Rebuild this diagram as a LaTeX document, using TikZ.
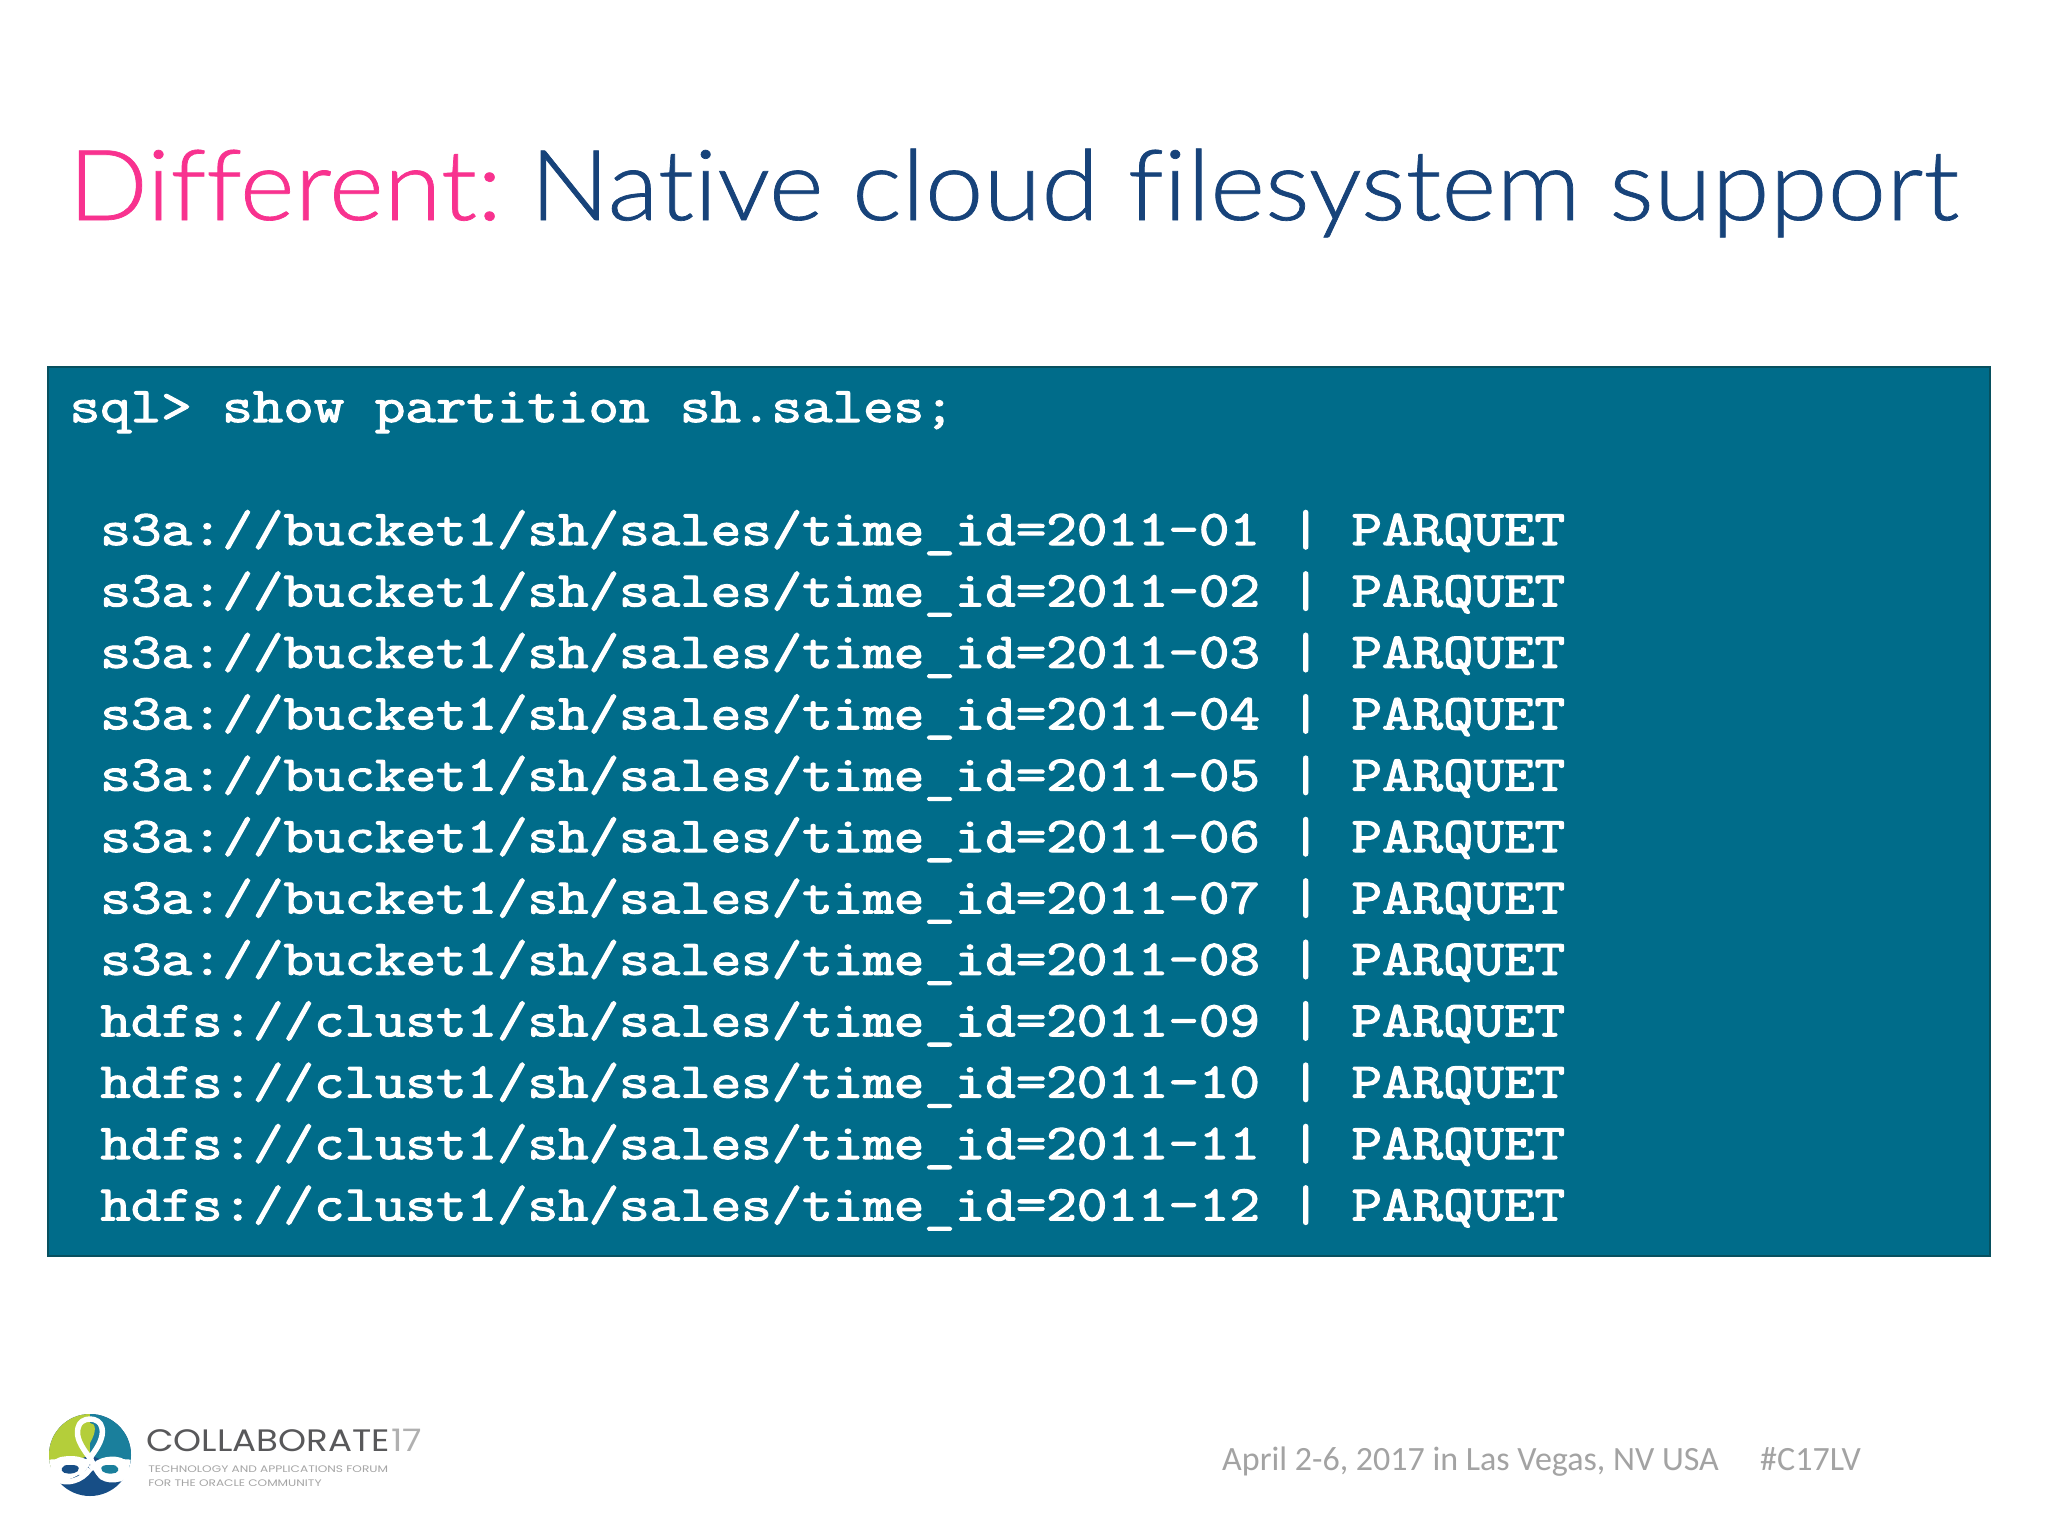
\documentclass[tikz,border=0pt]{standalone}
\usepackage{fontspec}
\setmainfont{Carlito}[Ligatures=NoCommon]
\newfontfamily\titlefont{Lato Light}[Ligatures=NoCommon,FakeBold=0.7]
\newfontfamily\codefont{Latin Modern Mono}[FakeBold=2.2]
\newfontfamily\logofont{Poppins}
\definecolor{titlepink}{HTML}{F8328F}
\definecolor{titlenavy}{HTML}{17437A}
\definecolor{boxteal}{HTML}{006C8A}
\definecolor{boxedge}{HTML}{07505F}
\definecolor{footgray}{HTML}{A3A3A3}
\definecolor{logogreen}{HTML}{B4CE3A}
\definecolor{logoteal}{HTML}{1A7F9C}
\definecolor{logonavy}{HTML}{174E86}
\definecolor{logotext}{HTML}{58585A}
\definecolor{logolight}{HTML}{B0B0B0}
\definecolor{logosmall}{HTML}{A5A5A5}
\tikzset{
  x=1pt,y=-1pt,
  codeline/.style={anchor=base west,inner sep=0pt,text=white,xscale=1.185,font=\fontsize{50}{60}\selectfont\codefont},
  ribbon/.style={draw=white,line width=5.5pt,line join=round},
  footer/.style={anchor=base west,inner sep=0pt,text=footgray,font=\fontsize{34}{40}\selectfont},
}
\begin{document}
\begin{tikzpicture}
\useasboundingbox (0,0) rectangle (2048,1536);
\fill[white] (0,0) rectangle (2048,1536);
\node[anchor=base west,inner sep=0pt,xscale=1.072,font=\fontsize{98}{120}\selectfont\titlefont] (title) at (68,220)
  {\textcolor{titlepink}{Different:} \hspace{-9pt}\textcolor{titlenavy}{Native cloud filesystem support}};
\node[anchor=north west,inner sep=0pt,minimum width=1942pt,minimum height=889pt,fill=boxteal,draw=boxedge,line width=2pt] (box) at (47,366) {};
\node[codeline] (sql) at (69.5,422) {sql> show partition sh.sales;};
\foreach \i in {1,...,12}{
  \pgfmathsetmacro{\yy}{545+61.4*(\i-1)}
  \node[codeline] (row\i) at (100.2,\yy) {\ifnum\i<9 s3a://bucket1\else hdfs://clust1\fi/sh/sales/time\_id=2011-\ifnum\i<10 0\fi\i{} | PARQUET};
}
\node[footer] (foot) at (1222,1470) {April 2-6, 2017 in Las Vegas, NV USA};
\node[footer] (tag) at (1760,1470) {\#C17LV};
% logo
\begin{scope}[shift={(90,1455)}]
  \begin{scope}
    \clip (0,0) circle[radius=41];
    \fill[logonavy] (-45,-45) rectangle (45,45);
    \fill[logogreen] (0,-45) -- (0,0) -- (-45,18) -- (-45,-45) -- cycle;
    \fill[logoteal] (0,-45) -- (0,0) -- (45,18) -- (45,-45) -- cycle;
    \fill[white] (-45,5) .. controls (-25,3) and (-8,4) .. (0,10) .. controls (8,4) and (25,3) .. (45,5) -- (45,27) .. controls (25,28) and (10,22) .. (0,10) .. controls (-10,22) and (-25,28) .. (-45,27) -- cycle;
  \end{scope}
  \fill[logoteal] (20,10) .. controls (8,9) and (10,17) .. (16,18) .. controls (24,20) and (30,17) .. (28,13) .. controls (27,10) and (24,10) .. (20,10) -- cycle;
  \fill[logonavy] (-20,10) .. controls (-8,9) and (-10,17) .. (-16,18) .. controls (-24,20) and (-30,17) .. (-28,13) .. controls (-27,10) and (-24,10) .. (-20,10) -- cycle;
  \fill[logogreen] (0,-32) .. controls (6,-32) and (7,-24) .. (0,-12) .. controls (-7,-24) and (-6,-32) .. (0,-32) -- cycle;
  \draw[ribbon] (0,3) .. controls (-10,-10) and (-14,-18) .. (-12,-27) .. controls (-10,-39) and (10,-39) .. (12,-27) .. controls (14,-18) and (8,-8) .. (2,0) .. controls (-2,8) and (-8,14) .. (-10,20);
  \draw[ribbon] (0,3) .. controls (4,10) and (6,16) .. (12,22) .. controls (22,28) and (38,24) .. (37,13) .. controls (36,3) and (18,2) .. (8,8) .. controls (6,10) and (3,12) .. (0,14);
  \draw[ribbon] (0,14) .. controls (-8,26) and (-24,30) .. (-33,24) .. controls (-41,18) and (-38,4) .. (-24,4) .. controls (-15,3) and (-8,5) .. (-2,8);
\end{scope}
\node[anchor=base west,inner sep=0pt,text=logotext,xscale=1.15,font=\fontsize{31}{36}\selectfont\logofont] (coll) at (146,1451) {COLLABORATE};
\node[anchor=base west,inner sep=0pt,text=logolight,xscale=1.15,font=\fontsize{31}{36}\selectfont\logofont] (seventeen) at (391,1451) {17};
\node[anchor=base west,inner sep=0pt,text=logosmall,xscale=1.28,font=\fontsize{9.5}{11}\selectfont\logofont] (forum1) at (148,1472) {TECHNOLOGY AND APPLICATIONS FORUM};
\node[anchor=base west,inner sep=0pt,text=logosmall,xscale=1.28,font=\fontsize{9.5}{11}\selectfont\logofont] (forum2) at (148,1486) {FOR THE ORACLE COMMUNITY};
\end{tikzpicture}
\end{document}
